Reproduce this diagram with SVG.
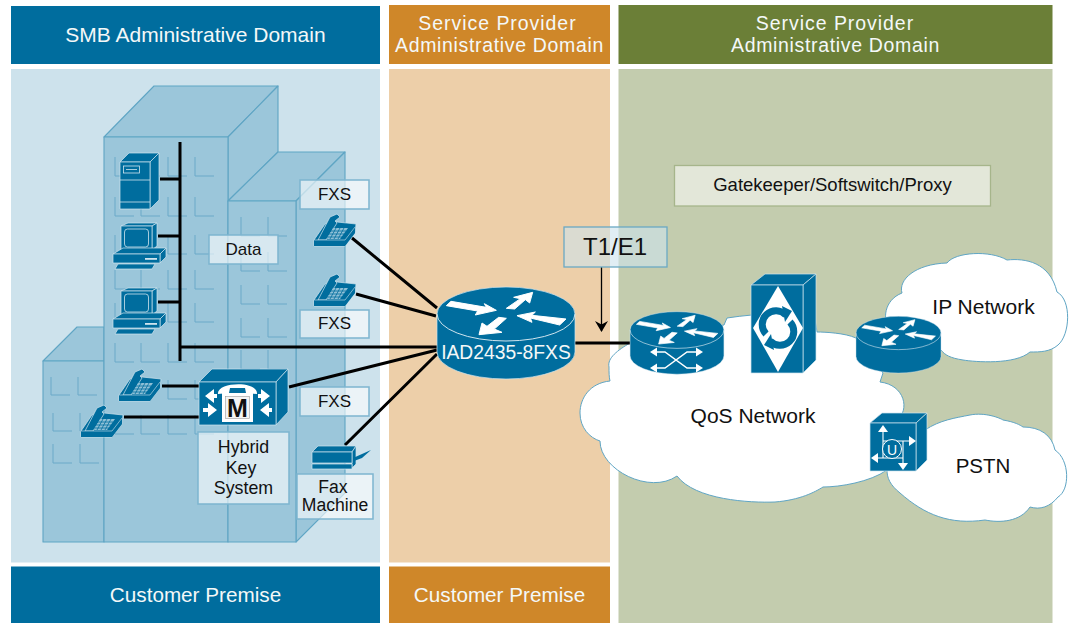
<svg xmlns="http://www.w3.org/2000/svg" width="1070" height="623" viewBox="0 0 1070 623">
<style>
text{font-family:"Liberation Sans",Arial,sans-serif;fill:#111;text-anchor:middle}
.hd{font-size:21px;fill:#f4f8f8}
.h2{font-size:19.500px;fill:#f4f8f8}
.sp{letter-spacing:.95px}
.ad{letter-spacing:.66px}
.lb{font-size:17px}
.big{font-size:21px}
.box{fill:#fff;fill-opacity:.6;stroke:#7db5cf;stroke-width:1.5}
.bld{fill:#9bc6da;stroke:#5fa5c4;stroke-width:1.1;stroke-linejoin:round}
.win{fill:none;stroke:#6aa9c8;stroke-width:1}
.ic{fill:#006d9e;stroke:#cfe4ee;stroke-width:.7;stroke-linejoin:round}
.wh{fill:#fff;stroke:none}
.wl{fill:none;stroke:#fff;stroke-width:1.500}
.cl{fill:#fff;stroke:#5fa5c4;stroke-width:1}
.cn{fill:none;stroke:#000;stroke-width:3}
</style>
<defs>
<marker id="ah" markerUnits="userSpaceOnUse" markerWidth="14" markerHeight="14" refX="10" refY="6.5" orient="auto"><path d="M0 0L11 6.5L0 13L3.5 6.5Z" fill="#000"/></marker>
<g id="router">
<path class="ic" d="M-69 0V38A69 27 0 0 0 69 38V0A69 27 0 0 0-69 0Z"/>
<path d="M-69 0A69 27 0 0 0 69 0" fill="none" stroke="#cfe4ee" stroke-width="1"/>
<g transform="scale(.3333)" fill="#fff" stroke="#fff" stroke-width="3" stroke-linejoin="round">
<polygon points="-179,-25 -165,-38 -59,-20 -65,-31 -29,-11 -92,3 -85,-9"/>
<polygon points="1,-17 43,-46 23,-50 80,-65 71,-33 58,-43 26,-15"/>
<polygon points="33,5 88,-6 78,4 180,15 161,33 73,12 78,25"/>
<polygon points="-22,10 1,13 -35,45 -12,55 -81,62 -72,27 -57,37"/>
</g>
</g>
<g id="phone">
<path class="ic" d="M1 26L12 10L24 8L43 10L42 19L32 32H1Z"/>
<path class="ic" d="M5 26L17 3L24 0L27 3L22 7L24 9L13 26Z"/>
<path d="M1 26H32L42 13V19L32 32H1Z" fill="#006d9e"/>
<path d="M1 26H32L42 13" fill="none" stroke="#cfe4ee" stroke-width=".6"/>
<path d="M20 14L35 14L27 25H14Z" fill="#8fc0d6"/>
<path d="M18 17H33M16 20H31M14 23H29M23 14L17 25M27 14L21 25M31 14L25 25" stroke="#006d9e" stroke-width=".8" fill="none"/>
</g>
<g id="pc">
<polygon class="ic" points="121,226 128,223 157,223 152,226"/>
<polygon class="ic" points="152,226 157,223 157,246 152,250"/>
<rect class="ic" x="121" y="226" width="31" height="24"/>
<rect x="124.500" y="229" width="24" height="18" rx="3" fill="none" stroke="#cfe4ee" stroke-width=".8"/>
<polygon class="ic" points="113,254 123,248 166,248 160,254"/>
<polygon class="ic" points="160,254 166,248 166,257 160,263"/>
<rect class="ic" x="113" y="254" width="47" height="9"/>
<rect x="145" y="258" width="12" height="1.800" fill="#cfe4ee"/>
<polygon class="ic" points="115,269 118,264 155,264 152,269"/>
</g>
</defs>

<g id="panels">
<rect x="11" y="6" width="369" height="58" fill="#006d9e"/>
<rect x="389" y="5" width="221" height="59" fill="#cf8729"/>
<rect x="618.500" y="5" width="434" height="59" fill="#6b7f37"/>
<rect x="11" y="69" width="369" height="493.500" fill="#cde2ec"/>
<rect x="389" y="69" width="221" height="493.500" fill="#edcfa9"/>
<rect x="618.500" y="69" width="434" height="554" fill="#c3ccae"/>
<rect x="11" y="566.500" width="369" height="56.500" fill="#006d9e"/>
<rect x="389" y="566.500" width="221" height="56.500" fill="#cf8729"/>
<text class="hd" x="195.500" y="42">SMB Administrative Domain</text>
<text class="h2 sp" x="497.500" y="29.500">Service Provider</text>
<text class="h2 ad" x="499.500" y="51.500">Administrative Domain</text>
<text class="h2 sp" x="835" y="29.500">Service Provider</text>
<text class="h2 ad" x="835.500" y="51.500">Administrative Domain</text>
<text class="hd" style="font-size:20.700px" x="195.500" y="602">Customer Premise</text>
<text class="hd" style="font-size:20.700px" x="499.500" y="602">Customer Premise</text>
</g>

<g id="buildings">
<polygon class="bld" points="43,361 77,327 104,327 104,361"/>
<rect class="bld" x="43" y="361" width="61" height="181"/>
<polygon class="bld" points="104,137 154,86 278,86 228,137"/>
<polygon class="bld" points="228,137 278,86 278,152 228,201"/>
<rect class="bld" x="104" y="137" width="124" height="405"/>
<polygon class="bld" points="228,201 278,152 345,152 296,201"/>
<polygon class="bld" points="296,201 345,152 345,493 296,542"/>
<rect class="bld" x="228" y="201" width="68" height="341"/>
<path class="win" d="M115 157v19h19M141 157v19h19M168 157v19h19M195 157v19h19M115 197v19h19M141 197v19h19M168 197v19h19M195 197v19h19M115 235v19h19M141 235v19h19M168 235v19h19M195 235v19h19M115 270v19h19M141 270v19h19M168 270v19h19M195 270v19h19M115 303v19h19M141 303v19h19M168 303v19h19M195 303v19h19M115 343v19h19M141 343v19h19M168 343v19h19M195 343v19h19M115 415v19h19M141 415v19h19M168 415v19h19M195 380v19h19M195 415v19h19M168 380v19h19M241 217v19h19M268 217v19h19M241 252v19h19M268 252v19h19M241 285v19h19M268 285v19h19M241 318v19h19M268 318v19h19M241 350v19h19M268 350v19h19M51 377v18h19M78 377v18h19M53 413v18h19M80 413v18h19M53 444v19h19M80 444v19h19"/>
</g>

<g id="clouds">
<path id="cloud-ip" class="cl" d="M890 330C882 320 884 300 902 293C898 280 915 264 947 263C955 252 990 250 1007 260C1025 258 1050 262 1057 292C1072 300 1070 335 1058 345C1050 352 1040 352 1030 352C1015 365 975 362 963 360C950 358 945 355 941 350Z"/>
<path id="cloud-pstn" class="cl" d="M925 430C940 420 955 418 970 415C985 412 1000 418 1003 420C1015 422 1020 425 1023 427C1040 427 1052 435 1055 450C1070 460 1070 490 1058 497C1050 507 1040 510 1030 507C1020 522 1000 523 985 520C950 525 925 515 900 493C890 485 887 478 887 470Z"/>
<path id="cloud-qos" class="cl" d="M630 343C618 350 607 358 609 367C609 372 609 377 610 381C590 383 580 398 580 413C580 428 590 438 600 441C600 470 650 495 677 476C695 500 750 503 775 502C800 500 815 492 823 487C840 487 870 482 887 470L897 420C910 410 905 385 880 382L883 373L856 338C845 333 825 332 817 332L815 320C790 312 760 313 727 318L724 325Z"/>
</g>

<g id="connectors">
<path class="cn" d="M180 142V361M180 347H437M160 179H180M158 236H180M158 302H180"/>
<path class="cn" d="M352 238L437 308M356 294L436 316M289 387L437 350M345 445L437 354"/>
<path class="cn" d="M162 386H199M124 417H199"/>
<path class="cn" d="M575 343H630"/>
<path d="M601.500 267V331" fill="none" stroke="#000" stroke-width="1.300" marker-end="url(#ah)"/>
</g>

<g id="labels">
<g id="label-fxs1"><rect class="box" x="300" y="180" width="69" height="29"/><text class="lb" x="334.500" y="200">FXS</text></g>
<g id="label-data"><rect class="box" x="209" y="235" width="69" height="29"/><text class="lb" x="243.500" y="255">Data</text></g>
<g id="label-fxs2"><rect class="box" x="300" y="310" width="69" height="28"/><text class="lb" x="334.500" y="329">FXS</text></g>
<g id="label-fxs3"><rect class="box" x="300" y="387" width="69" height="29"/><text class="lb" x="334.500" y="407">FXS</text></g>
<g id="label-hybrid"><rect class="box" x="198" y="432" width="91" height="72"/><text class="lb" style="font-size:17.800px" x="243.500" y="453">Hybrid</text><text class="lb" style="font-size:17.800px" x="241" y="474">Key</text><text class="lb" style="font-size:17.800px" x="243.500" y="494">System</text></g>
<g id="label-fax"><rect class="box" x="297" y="474" width="76" height="45"/><text class="lb" style="font-size:17.600px" x="333" y="493">Fax</text><text class="lb" style="font-size:17.600px" x="335" y="511">Machine</text></g>
<g id="label-t1e1"><rect x="564" y="227" width="103" height="40" fill="#cde2ec" fill-opacity=".6" stroke="#6aa9c4" stroke-width="1.300"/><text x="615" y="255" style="font-size:24px">T1/E1</text></g>
<g id="label-gatekeeper"><rect x="674.500" y="165.500" width="316" height="40.500" fill="#e3e7d9" stroke="#a6b58b" stroke-width="1.300"/><text x="832.500" y="191" style="font-size:18.500px">Gatekeeper/Softswitch/Proxy</text></g>
</g>

<g id="node-server">
<polygon class="ic" points="120,162 129,153 159,153 150,162"/>
<polygon class="ic" points="150,162 159,153 159,200 150,209"/>
<rect class="ic" x="120" y="162" width="30" height="47"/>
<rect x="123.500" y="166" width="16" height="7" fill="none" stroke="#cfe4ee" stroke-width=".8"/>
<path d="M126 169.500H137M120 180H150M120 202H150" stroke="#cfe4ee" stroke-width=".8" fill="none"/>
</g>
<g id="node-pc1"><use href="#pc"/></g>
<g id="node-pc2"><use href="#pc" y="65"/></g>
<g id="node-phone1"><use href="#phone" x="313" y="214"/></g>
<g id="node-phone2"><use href="#phone" x="313" y="274"/></g>
<g id="node-phone3"><use href="#phone" x="118" y="369"/></g>
<g id="node-phone4"><use href="#phone" x="80" y="405"/></g>

<g id="node-key-system">
<polygon class="ic" points="199,382 212,369 288,369 276,382"/>
<polygon class="ic" points="276,382 288,369 288,412 276,425"/>
<rect class="ic" x="199" y="382" width="77" height="43"/>
<path class="wh" d="M218 394C216 382 258 380 257 394L246 393L245 388H230L229 393Z"/>
<rect x="222" y="393" width="31" height="29" fill="#fff"/>
<rect x="225.500" y="396.500" width="24" height="22" fill="#f4f4f4" stroke="#999" stroke-width=".6"/>
<text x="237.500" y="417" style="font-size:25px;font-weight:bold">M</text>
<polygon class="wh" points="205,396 214,389 214,394 217,394 217,398 214,398 214,403"/>
<polygon class="wh" points="217,410 208,403 208,408 203,408 203,412 208,412 208,417"/>
<polygon class="wh" points="270,396 261,389 261,394 258,394 258,398 261,398 261,403"/>
<polygon class="wh" points="260,410 269,403 269,408 272,408 272,412 269,412 269,417"/>
</g>

<g id="node-fax">
<polygon class="ic" points="312,452 318,446 356,446 352,452"/>
<polygon class="ic" points="352,452 356,446 356,464 352,468"/>
<rect class="ic" x="312" y="452" width="40" height="11"/>
<rect class="ic" x="312" y="464" width="40" height="5"/>
<polygon points="353,458 371,450 362,458 354,461" fill="#006d9e"/>
</g>

<g id="node-iad">
<use href="#router" transform="translate(506 314)"/>
<text x="506" y="359" style="font-size:19.300px;fill:#f4f8f8">IAD2435-8FXS</text>
</g>

<g id="node-router-qos">
<use href="#router" transform="translate(677 330) scale(.68)"/>
<path class="wl" d="M655 352H665L687 368H698M655 368H665L687 352H698"/>
<polygon class="wh" points="657,347.500 657,356.500 650,352"/>
<polygon class="wh" points="657,363.500 657,372.500 650,368"/>
<polygon class="wh" points="696,347.500 696,356.500 703,352"/>
<polygon class="wh" points="696,363.500 696,372.500 703,368"/>
</g>

<g id="node-gatekeeper">
<polygon class="ic" points="751,285 765,274 816,274 803,285"/>
<polygon class="ic" points="803,285 816,274 816,360 803,373"/>
<rect class="ic" x="751" y="285" width="52" height="88"/>
<polygon class="wh" points="778,286 803,328 778,372 753,328"/>
<path d="M766 334A13 13 0 0 1 786 315" fill="none" stroke="#006d9e" stroke-width="7"/>
<path d="M790 322A13 13 0 0 1 770 341" fill="none" stroke="#006d9e" stroke-width="7"/>
<polygon points="782,306 792,311 785,322" fill="#006d9e"/>
<polygon points="774,350 764,345 771,334" fill="#006d9e"/>
</g>

<g id="node-router-ip"><use href="#router" transform="translate(898.500 333) scale(.616)"/></g>

<g id="node-pstn-switch">
<polygon class="ic" points="870,423 882,413 927,413 916,423"/>
<polygon class="ic" points="916,423 927,413 927,460 916,471"/>
<rect class="ic" x="870" y="423" width="46" height="48"/>
<path class="wl" style="stroke-width:1.100" d="M883 430V458H874M883 441H913M903 441V466M903 458H874"/>
<polygon class="wh" points="883,425 888,432 878,432"/>
<polygon class="wh" points="916,441 909,436 909,446"/>
<polygon class="wh" points="903,470 898,463 908,463"/>
<polygon class="wh" points="871,458 878,453 878,463"/>
<circle cx="892" cy="449" r="9.500" fill="#006d9e" stroke="#fff" stroke-width="1"/>
<text x="892" y="454.500" style="font-size:14px;fill:#fff">U</text>
</g>

<g id="cloud-labels">
<text class="big" x="753" y="423">QoS Network</text>
<text class="big" x="983.500" y="314">IP Network</text>
<text class="big" style="font-size:20.500px" x="983" y="473">PSTN</text>
</g>
</svg>
